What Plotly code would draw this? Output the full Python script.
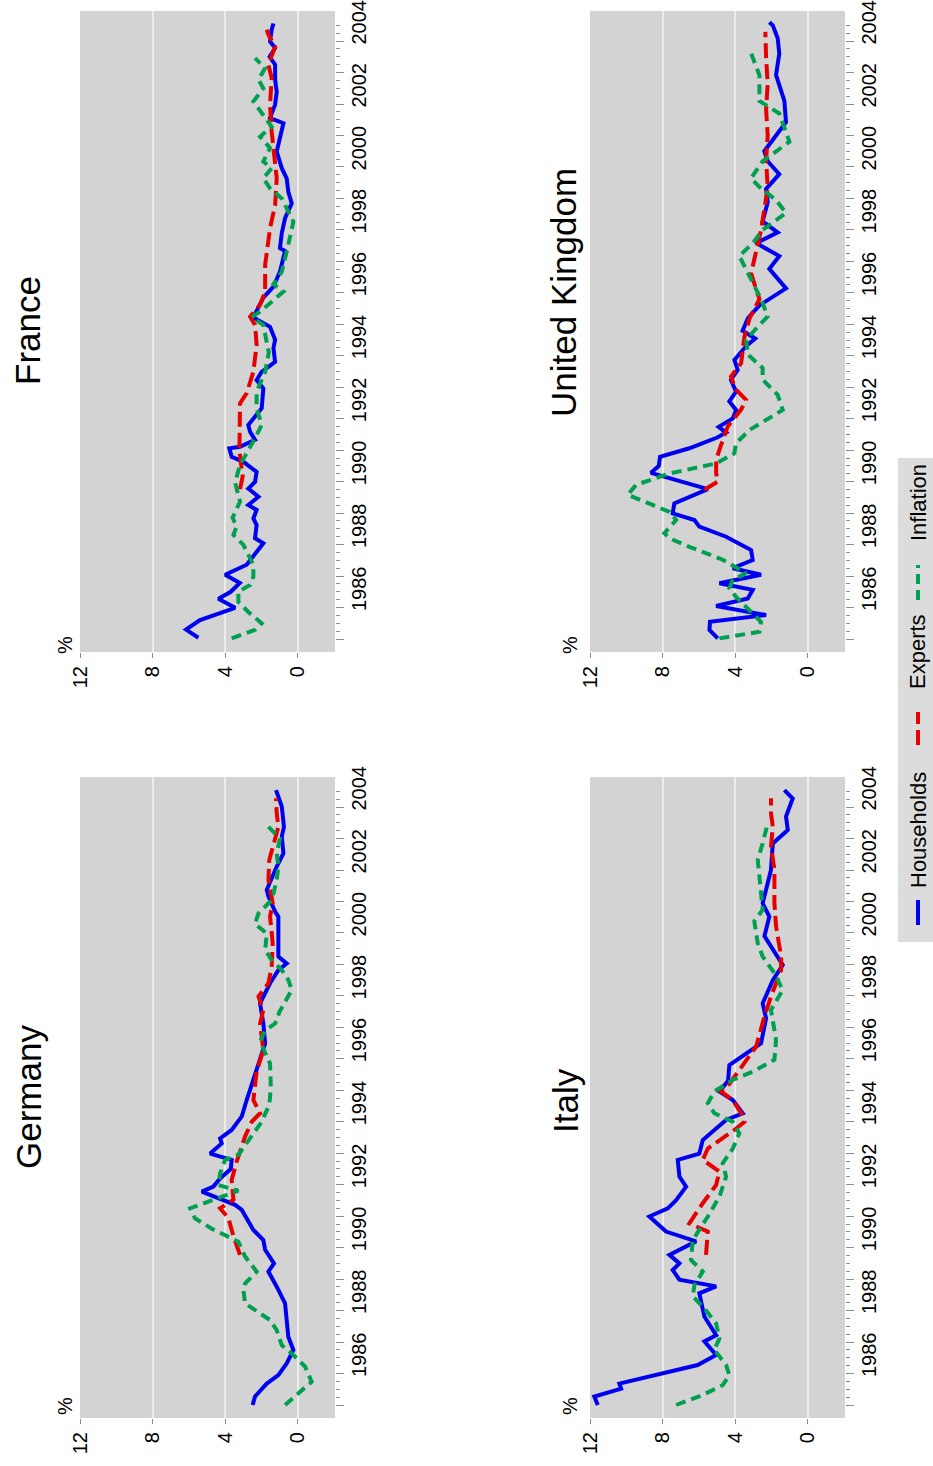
import plotly.graph_objects as go

FONT = "Liberation Sans, Arial, sans-serif"
BLUE = "#0000F0"
RED = "#E60000"
GREEN = "#00A050"
BG = "#D3D3D3"
GRID = "#EDEDED"
TICKC = "#8C8C8C"

series_names = ["Households", "Experts", "Inflation"]
value_ticks = [0, 4, 8, 12]
value_ticktext = ["0", "4", "8", "12"]
year_label_pos = [1986.5, 1988.5, 1990.5, 1992.5, 1994.5, 1996.5, 1998.5, 2000.5, 2002.5, 2004.5]
year_labels = ["1986", "1988", "1990", "1992", "1994", "1996", "1998", "2000", "2002", "2004"]
year_ticks = list(range(1985, 2005))
quarter_ticks = [1985 + 0.25 * i for i in range(79)]

# ---------------- Germany ----------------
de_hh_t = [1985.0, 1985.27, 1985.68, 1985.95, 1986.32, 1986.75, 1987.17, 1987.59, 1988.23, 1988.76,
           1989.24, 1989.5, 1989.93, 1990.24, 1990.56, 1991.2, 1991.36, 1991.78, 1991.94, 1992.2,
           1992.5, 1992.79, 1992.99, 1993.31, 1993.47, 1993.74, 1994.17, 1994.69, 1995.65, 1996.49,
           1997.12, 1997.76, 1998.4, 1998.82, 1999.03, 1999.25, 2000.52, 2000.68, 2001.16, 2001.37,
           2002.11, 2002.53, 2003.06, 2003.37, 2004.02, 2004.33, 2004.54]
de_hh_v = [2.49, 2.36, 1.71, 1.07, 0.61, 0.24, 0.52, 0.61, 0.70, 1.16,
           1.62, 1.31, 1.80, 1.90, 2.45, 3.09, 3.46, 5.30, 4.66, 4.29,
           3.70, 3.65, 4.84, 4.20, 4.29, 3.65, 3.09, 2.82, 2.27, 1.80,
           1.90, 2.08, 1.53, 1.07, 0.61, 1.07, 1.07, 1.25, 1.62, 1.71,
           1.16, 0.79, 0.88, 0.76, 0.88, 1.07, 1.20]
de_ex_t = [1989.77, 1990.36, 1990.94, 1991.25, 1991.52, 1992.15, 1992.74, 1993.53, 1994.0, 1994.27,
           1994.69, 1995.6, 1996.28, 1997.12, 1997.55, 1997.98, 1998.4, 1998.93, 1999.67, 2000.52,
           2000.94, 2001.69, 2002.32, 2002.85, 2003.37, 2003.8, 2004.28]
de_ex_v = [3.19, 3.55, 3.83, 4.29, 3.55, 3.65, 3.37, 2.91, 2.54, 2.08,
           2.45, 2.27, 1.90, 2.08, 1.90, 2.17, 1.62, 1.44, 1.38, 1.53,
           1.38, 1.62, 1.57, 1.31, 1.07, 1.16, 1.20]
de_in_t = [1985.0, 1985.48, 1985.74, 1986.22, 1986.59, 1986.9, 1987.38, 1987.7, 1988.23, 1988.65,
           1988.86, 1989.24, 1989.72, 1990.19, 1990.6, 1990.93, 1991.25, 1991.81, 1991.99, 1992.36,
           1992.79, 1992.95, 1993.42, 1994.0, 1994.48, 1994.74, 1995.22, 1995.85, 1996.55, 1996.9,
           1997.12, 1997.5, 1998.19, 1998.51, 1998.82, 1999.14, 1999.46, 1999.98, 2000.29, 2000.62,
           2000.99, 2001.26, 2001.68, 2002.11, 2002.53, 2003.0, 2003.48]
de_in_v = [0.70, -0.22, -0.77, -0.41, 0.24, 0.88, 1.16, 1.53, 2.91, 3.00,
           2.91, 2.27, 2.91, 3.28, 4.75, 5.67, 5.95, 3.28, 4.38, 4.29,
           4.01, 3.28, 2.73, 1.99, 1.62, 1.53, 1.49, 1.53, 2.08, 1.80,
           1.25, 1.00, 0.33, 0.52, 0.88, 1.44, 1.80, 1.71, 2.36, 2.17,
           1.53, 1.34, 1.16, 1.07, 1.16, 0.98, 1.80]

# ---------------- France ----------------
fr_hh_t = [1985.04, 1985.3, 1985.6, 1985.99, 1986.28, 1986.5, 1986.78, 1987.04, 1987.36, 1988.04,
           1988.2, 1988.62, 1988.83, 1989.1, 1989.26, 1989.52, 1989.78, 1989.99, 1990.31, 1990.63,
           1990.79, 1991.06, 1991.11, 1991.33, 1991.58, 1991.8, 1992.33, 1992.96, 1993.23, 1993.49,
           1993.81, 1994.24, 1994.51, 1994.92, 1995.22, 1995.85, 1996.2, 1996.68, 1997.33, 1997.42,
           1997.9, 1998.37, 1998.84, 1999.21, 1999.64, 1999.96, 2000.49, 2000.9, 2001.39, 2001.55,
           2001.98, 2002.38, 2002.78, 2003.25, 2003.5, 2003.78, 2003.99, 2004.36, 2004.56]
fr_hh_v = [5.49, 6.17, 5.40, 3.46, 4.38, 3.70, 3.20, 4.01, 2.82, 1.90,
           2.36, 2.27, 2.45, 2.27, 2.73, 2.17, 2.73, 2.36, 2.27, 3.00,
           3.65, 3.78, 3.19, 2.36, 2.63, 2.73, 1.99, 1.90, 2.27, 1.99,
           1.25, 1.34, 1.25, 1.53, 2.45, 1.90, 1.34, 0.98, 0.70, 0.98,
           0.88, 0.70, 0.33, 0.52, 0.61, 0.88, 1.16, 1.00, 0.79, 1.53,
           1.25, 1.16, 1.25, 1.25, 1.55, 1.25, 1.53, 1.44, 1.34]
fr_ex_t = [1989.76, 1990.17, 1990.97, 1992.12, 1992.49, 1992.81, 1993.49, 1994.35, 1994.98, 1995.24,
           1995.62, 1996.03, 1996.89, 1998.05, 1998.79, 1999.64, 2000.49, 2001.12, 2001.97, 2002.82,
           2003.25, 2003.82, 2004.2, 2004.36]
fr_ex_v = [3.19, 3.04, 3.22, 3.19, 3.19, 2.82, 2.45, 2.27, 2.36, 2.63,
           2.08, 1.80, 1.80, 1.53, 1.25, 1.16, 1.34, 1.44, 1.53, 1.44,
           1.62, 1.25, 1.62, 1.71]
fr_in_t = [1985.02, 1985.29, 1985.5, 1985.86, 1986.18, 1986.5, 1986.72, 1986.99, 1987.35, 1987.99,
           1988.31, 1988.58, 1988.85, 1989.37, 1989.97, 1990.53, 1991.38, 1991.8, 1992.33, 1992.86,
           1993.49, 1994.1, 1994.98, 1995.23, 1995.4, 1996.04, 1996.27, 1996.67, 1997.3, 1998.26,
           1998.58, 1999.0, 1999.32, 1999.64, 1999.96, 2000.17, 2000.6, 2000.96, 2001.28, 2001.66,
           2002.08, 2002.5, 2002.77, 2003.14, 2003.46]
fr_in_v = [3.65, 2.36, 1.99, 2.73, 3.28, 3.28, 2.63, 2.45, 2.45, 3.00,
           3.55, 3.37, 3.60, 3.19, 3.46, 3.19, 2.36, 1.99, 2.27, 2.27,
           1.80, 1.60, 1.90, 2.54, 2.08, 0.79, 1.34, 0.88, 0.61, 0.24,
           0.52, 0.88, 1.53, 1.90, 1.44, 1.90, 1.53, 2.08, 1.44, 1.90,
           2.45, 1.90, 2.17, 1.80, 2.36]

# ---------------- Italy ----------------
it_hh_t = [1985.0, 1985.27, 1985.52, 1985.68, 1986.27, 1986.59, 1987.02, 1987.22, 1987.81, 1988.55,
           1988.77, 1988.98, 1989.29, 1989.5, 1989.77, 1990.2, 1990.51, 1990.99, 1991.25, 1991.51,
           1991.94, 1992.26, 1992.79, 1992.99, 1993.42, 1994.06, 1994.27, 1994.69, 1994.96, 1995.3,
           1995.8, 1996.49, 1997.29, 1997.76, 1998.5, 1998.98, 1999.9, 2000.52, 2000.94, 2002.0,
           2002.84, 2003.27, 2003.7, 2004.27, 2004.54]
it_hh_v = [11.6, 11.79, 10.31, 10.41, 6.08, 5.06, 5.71, 5.06, 5.71, 5.99,
           5.06, 7.09, 7.46, 7.09, 7.64, 6.17, 7.83, 8.75, 7.73, 7.27,
           6.72, 7.09, 7.18, 5.99, 5.80, 4.51, 3.59, 4.14, 4.88, 4.40,
           4.33, 2.58, 2.30, 2.49, 1.93, 1.38, 2.39, 2.12, 2.49, 2.03,
           1.93, 1.10, 1.20, 0.83, 1.29]
it_ex_t = [1989.77, 1990.51, 1990.77, 1991.41, 1991.99, 1992.42, 1992.79, 1993.15, 1993.74, 1994.0,
           1994.27, 1994.69, 1994.96, 1995.2, 1996.39, 1997.35, 1997.98, 1998.82, 1999.25, 2000.21,
           2000.95, 2002.01, 2002.75, 2003.38, 2003.8, 2004.28]
it_ex_v = [5.62, 5.52, 6.54, 5.80, 5.06, 4.88, 5.80, 5.52, 4.05, 3.50,
           3.68, 4.14, 4.79, 4.33, 2.85, 2.39, 2.03, 1.47, 1.47, 1.75,
           1.84, 1.84, 2.03, 1.93, 2.03, 2.03]
it_in_t = [1985.0, 1985.32, 1985.63, 1985.95, 1986.27, 1986.75, 1987.11, 1987.59, 1988.07, 1988.45,
           1988.81, 1989.24, 1989.61, 1990.24, 1990.99, 1991.62, 1992.26, 1992.68, 1993.15, 1993.63,
           1994.0, 1994.27, 1994.59, 1994.96, 1995.33, 1995.6, 1995.97, 1996.6, 1997.55, 1998.19,
           1998.72, 1999.25, 1999.67, 2000.37, 2000.74, 2001.79, 2002.32, 2002.85, 2003.48]
it_in_v = [7.27, 5.80, 4.70, 4.33, 4.51, 5.16, 4.88, 5.06, 5.71, 6.35,
           6.26, 5.80, 6.45, 6.35, 5.52, 4.88, 4.51, 4.70, 4.14, 3.78,
           4.14, 5.16, 5.52, 5.16, 4.14, 3.00, 1.84, 1.75, 2.03, 1.38,
           1.84, 2.49, 2.76, 2.95, 2.49, 2.67, 2.76, 2.49, 2.21]

# ---------------- United Kingdom ----------------
uk_hh_t = [1985.02, 1985.29, 1985.55, 1985.76, 1986.05, 1986.29, 1986.56, 1986.77, 1987.04, 1987.25,
           1987.51, 1987.83, 1988.25, 1988.57, 1988.78, 1988.99, 1989.31, 1989.76, 1990.28, 1990.5,
           1990.79, 1991.06, 1991.41, 1991.56, 1991.74, 1992.01, 1992.28, 1992.55, 1992.86, 1993.23,
           1993.55, 1993.87, 1994.3, 1994.55, 1994.8, 1995.2, 1995.6, 1996.14, 1996.76, 1997.17,
           1997.58, 1997.92, 1998.27, 1998.88, 1999.3, 1999.77, 2000.18, 2000.5, 2001.0, 2001.42,
           2002.1, 2002.92, 2003.6, 2004.09, 2004.5, 2004.6]
uk_hh_v = [4.97, 5.43, 5.40, 2.30, 5.06, 3.31, 3.04, 4.88, 2.58, 4.14,
           3.04, 3.13, 4.51, 5.99, 6.26, 7.46, 7.37, 5.52, 8.66, 8.23,
           8.16, 6.54, 4.97, 4.51, 4.92, 4.14, 3.96, 4.33, 3.96, 4.24,
           3.87, 4.05, 3.41, 2.90, 3.60, 3.30, 2.67, 1.20, 2.12, 1.57,
           2.85, 1.66, 2.49, 2.21, 2.30, 1.57, 2.21, 2.40, 1.75, 1.20,
           1.29, 1.75, 1.57, 1.66, 1.93, 2.12]
uk_ex_t = [1989.74, 1990.0, 1990.27, 1990.69, 1991.16, 1991.75, 1992.29, 1992.6, 1992.92, 1993.34,
           1993.76, 1994.2, 1994.6, 1995.18, 1995.8, 1996.62, 1997.38, 1997.99, 1998.68, 1999.36,
           2000.18, 2001.0, 2001.83, 2002.65, 2003.47, 2004.29]
uk_ex_v = [5.71, 4.97, 5.06, 5.06, 4.79, 4.42, 3.68, 3.41, 3.96, 4.24,
           3.68, 3.59, 3.50, 3.22, 2.67, 3.13, 2.85, 2.58, 2.39, 2.21,
           2.30, 2.21, 2.30, 2.21, 2.30, 2.34]
uk_in_t = [1985.02, 1985.23, 1985.54, 1986.02, 1986.34, 1986.61, 1986.88, 1987.09, 1987.52, 1987.93,
           1988.2, 1988.36, 1988.78, 1989.04, 1989.31, 1989.58, 1989.9, 1990.26, 1990.58, 1990.9,
           1991.22, 1991.64, 1992.28, 1992.76, 1993.24, 1993.61, 1994.04, 1994.5, 1994.9, 1995.25,
           1995.8, 1996.3, 1997.17, 1997.6, 1998.0, 1998.54, 1998.95, 1999.36, 1999.64, 2000.18,
           2000.8, 2001.7, 2002.1, 2002.92, 2003.61]
uk_in_v = [4.88, 2.67, 2.58, 3.41, 3.96, 4.33, 4.14, 3.41, 4.70, 6.54,
           7.64, 7.92, 7.27, 7.64, 8.75, 9.94, 9.48, 7.64, 5.06, 4.05,
           3.96, 3.22, 1.38, 1.66, 2.49, 2.49, 3.31, 3.40, 2.80, 2.21,
           2.58, 3.00, 3.78, 3.00, 2.49, 1.20, 1.75, 2.67, 3.13, 2.49,
           1.01, 1.57, 2.67, 2.67, 3.13]

W, H = 933, 1466
LEFT = [80 / W, 335 / W]
RIGHT = [590 / W, 845 / W]
BOTTOM = [1 - 1418 / H, 1 - 777 / H]
TOP = [1 - 652 / H, 1 - 11 / H]
TIME_RANGE = [1984.587, 2004.955]
VALUE_RANGE = [12.03, -2.06]
TICK_FS = 20

panels = [
    dict(name="Germany", n=1, xd=LEFT, yd=BOTTOM,
         data=[(de_hh_t, de_hh_v), (de_ex_t, de_ex_v), (de_in_t, de_in_v)],
         title_xy=(28, 1097), pct_xy=(65, 1406)),
    dict(name="France", n=2, xd=LEFT, yd=TOP,
         data=[(fr_hh_t, fr_hh_v), (fr_ex_t, fr_ex_v), (fr_in_t, fr_in_v)],
         title_xy=(28, 331), pct_xy=(65, 645)),
    dict(name="Italy", n=3, xd=RIGHT, yd=BOTTOM,
         data=[(it_hh_t, it_hh_v), (it_ex_t, it_ex_v), (it_in_t, it_in_v)],
         title_xy=(565, 1101), pct_xy=(570, 1406)),
    dict(name="United Kingdom", n=4, xd=RIGHT, yd=TOP,
         data=[(uk_hh_t, uk_hh_v), (uk_ex_t, uk_ex_v), (uk_in_t, uk_in_v)],
         title_xy=(563, 293), pct_xy=(570, 645)),
]

styles = [
    dict(color=BLUE, width=4, dash="solid"),
    dict(color=RED, width=4, dash="15px,6px"),
    dict(color=GREEN, width=4, dash="10px,6px"),
]

fig = go.Figure()
layout = dict(
    template="none",
    width=W, height=H,
    margin=dict(l=0, r=0, t=0, b=0, pad=0, autoexpand=False),
    paper_bgcolor="white",
    plot_bgcolor=BG,
    showlegend=False,
    font=dict(family=FONT, size=TICK_FS, color="black"),
)
annotations = []
shapes = []

for p in panels:
    n = p["n"]
    xs = "" if n == 1 else str(n)
    xname, yname = "x" + xs, "y" + xs
    ovl = 4 + n
    for (tt, vv), nm, st in zip(p["data"], series_names, styles):
        fig.add_trace(go.Scatter(x=vv, y=tt, mode="lines", name=nm,
                                 xaxis=xname, yaxis=yname,
                                 line=dict(color=st["color"], width=st["width"], dash=st["dash"]),
                                 hoverinfo="skip"))
    # empty trace to activate the overlay axis carrying the year labels
    fig.add_trace(go.Scatter(x=[None], y=[None], xaxis=xname, yaxis="y" + str(ovl),
                             showlegend=False, hoverinfo="skip"))
    layout["xaxis" + xs] = dict(
        domain=p["xd"], anchor=yname, range=VALUE_RANGE, autorange=False, automargin=False,
        tickmode="array", tickvals=value_ticks, ticktext=value_ticktext,
        tickangle=-90, ticks="outside", ticklen=5, tickcolor=TICKC, tickwidth=1,
        showgrid=True, gridcolor=GRID, gridwidth=1.5, zeroline=False, showline=False,
        tickfont=dict(family=FONT, size=TICK_FS, color="black"),
    )
    layout["yaxis" + xs] = dict(
        domain=p["yd"], anchor=xname, side="right", range=TIME_RANGE, autorange=False,
        automargin=False,
        tickmode="array", tickvals=year_ticks, ticks="outside", ticklen=8,
        tickcolor=TICKC, tickwidth=1, showticklabels=False,
        minor=dict(tickmode="array", tickvals=quarter_ticks, ticks="outside",
                   ticklen=4, tickcolor=TICKC, tickwidth=1, showgrid=False),
        showgrid=False, zeroline=False, showline=False,
    )
    layout["yaxis" + str(ovl)] = dict(
        overlaying=yname, anchor=xname, side="right", range=TIME_RANGE, autorange=False,
        automargin=False,
        tickmode="array", tickvals=year_label_pos, ticktext=year_labels,
        ticks="outside", ticklen=6, tickcolor="rgba(0,0,0,0)", tickangle=-90,
        showgrid=False, zeroline=False, showline=False,
        tickfont=dict(family=FONT, size=TICK_FS, color="black"),
    )
    tx, ty = p["title_xy"]
    annotations.append(dict(text=p["name"], x=tx / W, y=1 - ty / H, xref="paper", yref="paper",
                            showarrow=False, textangle=-90, xanchor="center", yanchor="middle",
                            font=dict(family=FONT, size=35, color="black")))
    px_, py_ = p["pct_xy"]
    annotations.append(dict(text="%", x=px_ / W, y=1 - py_ / H, xref="paper", yref="paper",
                            showarrow=False, textangle=-90, xanchor="center", yanchor="middle",
                            font=dict(family=FONT, size=TICK_FS, color="black")))

# legend drawn as a rotated key
shapes.append(dict(type="rect", xref="paper", yref="paper", x0=898 / W, x1=1.0,
                   y0=1 - 942 / H, y1=1 - 458 / H, fillcolor="#DCDCDC", line=dict(width=0),
                   layer="below"))
leg_x = 918 / W
leg_lines = [(900, 925), (712, 745), (565, 600)]
leg_text_y = [830, 652, 503]
for (a, b), ty, nm, st in zip(leg_lines, leg_text_y, series_names, styles):
    shapes.append(dict(type="line", xref="paper", yref="paper", x0=leg_x, x1=leg_x,
                       y0=1 - b / H, y1=1 - a / H,
                       line=dict(color=st["color"], width=st["width"], dash=st["dash"])))
    annotations.append(dict(text=nm, x=leg_x, y=1 - ty / H, xref="paper", yref="paper",
                            showarrow=False, textangle=-90, xanchor="center", yanchor="middle",
                            font=dict(family=FONT, size=22, color="black")))

layout["annotations"] = annotations
layout["shapes"] = shapes
fig.update_layout(**layout)
fig.write_html("out.html", config={"displayModeBar": False},
               post_script="document.body.style.margin='0px';")
